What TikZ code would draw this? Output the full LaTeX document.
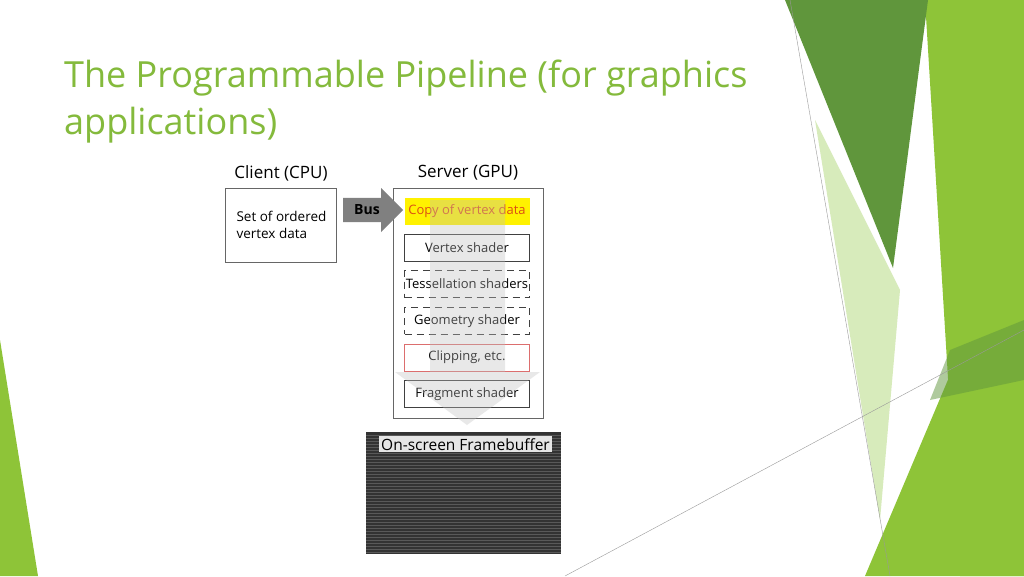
\documentclass[tikz,border=0pt]{standalone}
\usepackage{fontspec}
\setmainfont{Open Sans}
\usetikzlibrary{positioning,shapes.arrows}
\definecolor{titlegreen}{RGB}{132,186,60}
\definecolor{leafgreen}{RGB}{142,196,56}
\definecolor{darkleaf}{RGB}{96,150,60}
\definecolor{paleleaf}{RGB}{206,230,170}
\tikzset{
  stage/.style={draw=black!75, line width=0.6pt, minimum width=125pt, minimum height=27pt, inner sep=0pt, font=\fontsize{13}{15}\selectfont},
  optstage/.style={stage, dash pattern=on 7pt off 5pt},
  frame/.style={draw=black!60, line width=0.8pt, fill=white}
}
\begin{document}
\begin{tikzpicture}[x=1pt,y=-1pt]
\useasboundingbox (0,0) rectangle (1024,576);
\fill[white] (0,0) rectangle (1024,576);
% decoration on the right
\fill[leafgreen] (925,0) -- (1024,0) -- (1024,576) -- (960,576) -- cycle;
\fill[darkleaf] (785,0) -- (928,0) -- (893,268) -- cycle;
\fill[paleleaf,opacity=0.8] (815,120) -- (900,290) -- (880,520) -- cycle;
\fill[leafgreen] (865,576) -- (950,375) -- (1024,300) -- (1024,576) -- cycle;
\fill[darkleaf,opacity=0.5] (930,400) -- (950,350) -- (1024,320) -- (1024,380) -- cycle;
\fill[leafgreen] (0,340) -- (38,576) -- (0,576) -- cycle;
\draw[black!40,line width=0.4pt] (790,0) -- (890,576);
\draw[black!40,line width=0.4pt] (565,576) -- (1024,330);
% title
\node[anchor=north west, align=left, text=titlegreen, font=\fontsize{36}{47}\selectfont, inner sep=0pt] (title) at (64,60) {The Programmable Pipeline (for graphics\\applications)};
% client
\node[font=\fontsize{17}{20}\selectfont] (clientlbl) at (281,173) {Client (CPU)};
\node[frame, minimum width=111pt, minimum height=74pt] (client) at (281,225) {};
\node[align=left, anchor=west, font=\fontsize{13.5}{17}\selectfont] (clienttxt) at (233,225) {Set of ordered\\vertex data};
% server
\node[font=\fontsize{17}{20}\selectfont] (serverlbl) at (468,173) {Server (GPU)};
\node[frame, minimum width=150pt, minimum height=230pt, anchor=north] (server) at (468,188) {};
% bus arrow
\node[single arrow, fill=black!50, minimum height=60pt, minimum width=44pt, single arrow head extend=6pt, inner sep=2pt, text=black, font=\bfseries\fontsize{14}{16}\selectfont] (bus) at (367,210) {Bus\hspace{8pt}};
% framebuffer
\node[fill=black!80, minimum width=195pt, minimum height=122pt, anchor=north] (fb) at (463,432) {};
\foreach \yy in {435,438,...,552} \draw[black!65,line width=0.5pt] (366,\yy) -- (561,\yy);
\node[fill=black!10, inner sep=2pt, font=\fontsize{15.5}{18}\selectfont, anchor=north west] (fbtxt) at (379,436) {On-screen Framebuffer};
% stages
\node[fill=yellow, minimum width=125pt, minimum height=27pt, text={rgb,255:red,220;green,80;blue,20}, font=\fontsize{13}{15}\selectfont] (copy) at (467,211) {Copy of vertex data};
\node[stage, below=9pt of copy] (vert) {Vertex shader};
\node[optstage, below=9pt of vert] (tess) {Tessellation shaders};
\node[optstage, below=9pt of tess] (geom) {Geometry shader};
\node[stage, draw={rgb,255:red,220;green,110;blue,110}, below=9pt of geom] (clip) {Clipping, etc.};
\node[stage, below=9pt of clip] (frag) {Fragment shader};
% big flow arrow
\fill[black!25, opacity=0.35] (430,200) -- (505,200) -- (505,372) -- (540,372) -- (467,425) -- (395,372) -- (430,372) -- cycle;
\end{tikzpicture}
\end{document}
